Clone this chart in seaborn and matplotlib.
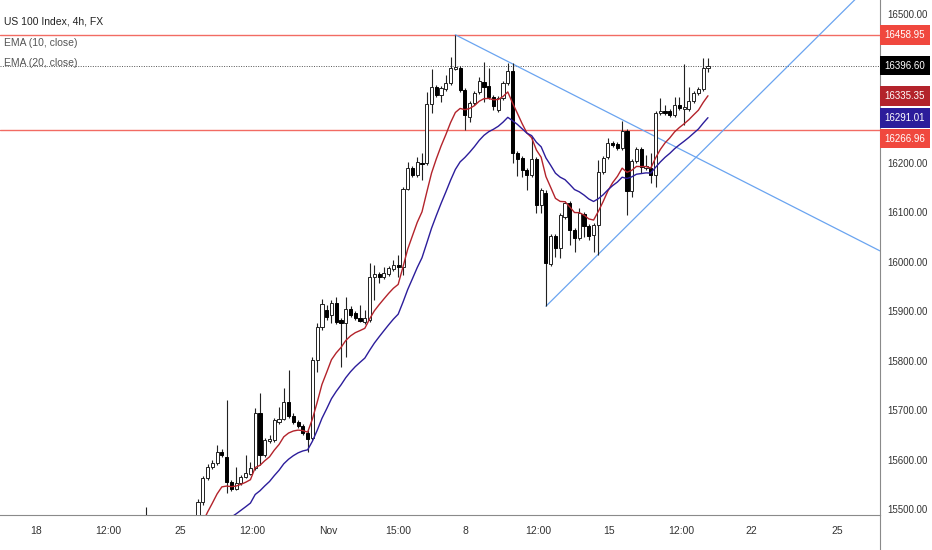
import numpy as np
import pandas as pd
import matplotlib
matplotlib.use('Agg')
import matplotlib.pyplot as plt
import matplotlib.transforms as mtransforms
from matplotlib.lines import Line2D
import seaborn as sns

# 4h bars, US 100 Index. first 11 bars sit mostly below the visible range
opens = [15470, 15450, 15410, 15390, 15370, 15350, 15340, 15335, 15370, 15410, 15440,
         15467, 15514, 15563, 15585, 15593, 15615, 15605, 15554, 15540, 15552,
         15565, 15571, 15583, 15694, 15609, 15637, 15639, 15676, 15682, 15716,
         15688, 15676, 15668, 15654, 15643, 15801, 15868, 15902, 15892, 15916,
         15882, 15876, 15904, 15896, 15886, 15878, 15882, 15969, 15975, 15969,
         15975, 15985, 15993, 15989, 16147, 16189, 16175, 16199, 16199, 16319,
         16353, 16337, 16349, 16361, 16390, 16392, 16347, 16292, 16321, 16343,
         16363, 16355, 16333, 16307, 16331, 16361, 16385, 16220, 16210, 16185,
         16175, 16208, 16114, 16139, 15995, 16052, 16028, 16090, 16119, 16064,
         16048, 16096, 16072, 16054, 16074, 16181, 16212, 16240, 16238, 16230,
         16264, 16143, 16203, 16228, 16189, 16189, 16175, 16301, 16305, 16305,
         16296, 16317, 16309, 16309, 16325, 16341, 16349, 16392]
highs = [15505, 15470, 15430, 15410, 15390, 15370, 15360, 15380, 15420, 15450, 15475,
         15520, 15567, 15591, 15599, 15629, 15621, 15720, 15559, 15585, 15569,
         15609, 15595, 15704, 15734, 15643, 15649, 15684, 15706, 15744, 15781,
         15694, 15680, 15672, 15660, 15807, 15876, 15924, 15912, 15922, 15928,
         15886, 15928, 15910, 15900, 15912, 15902, 15997, 15993, 15979, 15989,
         15991, 16003, 16013, 16151, 16201, 16193, 16212, 16220, 16343, 16389,
         16357, 16355, 16377, 16414, 16458.95, 16396, 16351, 16325, 16345, 16373,
         16404, 16392, 16337, 16335, 16365, 16402, 16402, 16224, 16214, 16189,
         16252, 16212, 16149, 16145, 16056, 16056, 16098, 16123, 16123, 16068,
         16108, 16100, 16076, 16078, 16206, 16214, 16250, 16244, 16242, 16284,
         16268, 16208, 16232, 16232, 16216, 16220, 16305, 16331, 16317, 16309,
         16333, 16333, 16400, 16353, 16345, 16353, 16412, 16412]
lows = [15440, 15400, 15380, 15360, 15340, 15320, 15310, 15320, 15360, 15400, 15430,
        15457, 15508, 15559, 15581, 15589, 15605, 15532, 15536, 15538, 15548,
        15563, 15569, 15579, 15589, 15605, 15633, 15635, 15672, 15680, 15684,
        15672, 15664, 15649, 15615, 15639, 15777, 15862, 15882, 15876, 15874,
        15787, 15807, 15888, 15882, 15878, 15874, 15878, 15922, 15957, 15965,
        15971, 15981, 15969, 15973, 16145, 16171, 16171, 16165, 16195, 16301,
        16333, 16323, 16345, 16357, 16387, 16343, 16266, 16282, 16317, 16339,
        16323, 16329, 16307, 16303, 16327, 16357, 16199, 16173, 16171, 16145,
        16171, 16098, 16098, 15910, 15991, 16009, 16007, 16086, 16034, 16019,
        16044, 16050, 16044, 16019, 16013, 16177, 16208, 16232, 16226, 16226,
        16094, 16131, 16199, 16179, 16185, 16159, 16151, 16296, 16296, 16292,
        16292, 16307, 16276, 16305, 16321, 16337, 16345, 16383]
closes = [15450, 15410, 15390, 15370, 15350, 15340, 15330, 15370, 15410, 15440, 15467,
          15514, 15563, 15585, 15593, 15615, 15609, 15554, 15540, 15552, 15565,
          15573, 15583, 15694, 15609, 15639, 15641, 15680, 15682, 15716, 15688,
          15676, 15668, 15654, 15641, 15801, 15868, 15914, 15888, 15916, 15878,
          15876, 15904, 15892, 15886, 15880, 15886, 15969, 15975, 15969, 15977,
          15987, 15993, 15989, 16147, 16189, 16175, 16201, 16197, 16319, 16353,
          16337, 16351, 16361, 16392, 16393, 16347, 16296, 16321, 16341, 16365,
          16353, 16333, 16315, 16331, 16361, 16385, 16220, 16208, 16185, 16175,
          16208, 16114, 16145, 15997, 16052, 16028, 16094, 16119, 16064, 16048,
          16098, 16072, 16052, 16074, 16181, 16210, 16240, 16236, 16230, 16264,
          16143, 16203, 16228, 16191, 16193, 16175, 16301, 16305, 16301, 16296,
          16317, 16311, 16313, 16325, 16341, 16349, 16392, 16396.6]
first_bar = -11

# EMA values just before the first visible bar (where the lines come in)
ema10_seed = 15440
ema20_seed = 15375

x_ticks = [-34.0, -18.9, -3.8, 11.3, 27.3, 41.9, 56.1, 71.3, 86.3, 101.5, 116.0, 134.1]
x_labels = ['18', '12:00', '25', '12:00', 'Nov', '15:00', '8', '12:00', '15', '12:00', '22', '25']
y_ticks = [15500, 15600, 15700, 15800, 15900, 16000, 16100, 16200, 16500]

hlines = [16458.95, 16266.96]
trend_down = [(54, 16458.95), (65, 16405)]
trend_up = [(73, 15910), (89, 16063)]

tag_prices = [16458.95, 16396.60, 16335.35, 16291.01, 16266.96]
tag_nudge = [0, 0, 0, 0, -18]
tag_colors = ['#f0483e', '#000000', '#b3232b', '#2c1d9b', '#f0483e']

df = pd.DataFrame({'open': opens, 'high': highs, 'low': lows, 'close': closes})
df['idx'] = np.arange(first_bar, first_bar + len(df))


def ema(vals, span, seed):
    a = 2 / (span + 1)
    out, e = [], seed
    for v in vals:
        e = e + a * (v - e)
        out.append(e)
    return out


vis = df[df.idx >= 0].copy()
vis['ema10'] = ema(vis.close, 10, ema10_seed)
vis['ema20'] = ema(vis.close, 20, ema20_seed)

sns.set_theme(style='white')
plt.rcParams['font.family'] = ['Liberation Sans', 'DejaVu Sans']

fig = plt.figure(figsize=(9.32, 5.5), dpi=100)
ax = fig.add_axes([0, 35 / 550, 880 / 932, 515 / 550])

xmin, xmax = -41.55, 143.1
ax.set_xlim(xmin, xmax)
ax.set_ylim(15487.9, 16529.3)

for h in hlines:
    ax.axhline(h, color='#f26b63', lw=1.0, zorder=1)
ax.axhline(closes[-1], color='#555555', lw=0.7, ls=(0, (1, 1.5)), zorder=1)

for (x1, y1), (x2, y2) in [trend_down, trend_up]:
    k = (y2 - y1) / (x2 - x1)
    ax.plot([x1, xmax], [y1, y1 + k * (xmax - x1)], color='#6aa4f0', lw=0.9, zorder=2)

sns.lineplot(data=vis, x='idx', y='ema10', color='#b3232b', lw=1.0, ax=ax, zorder=5)
sns.lineplot(data=vis, x='idx', y='ema20', color='#2c1d9b', lw=1.0, ax=ax, zorder=5)

up = df.close >= df.open
ax.vlines(df.idx, df.low, df.high, color='#222222', lw=0.8, zorder=3)
ax.bar(df.idx[up], (df.close - df.open)[up], bottom=df.open[up], width=0.66,
       color='white', edgecolor='#222222', lw=0.7, zorder=4)
ax.bar(df.idx[~up], (df.close - df.open)[~up], bottom=df.open[~up], width=0.66,
       color='black', edgecolor='black', lw=0.7, zorder=4)

ax.set_xlabel('')
ax.set_ylabel('')
ax.set_xticks(x_ticks)
ax.set_xticklabels(x_labels)
ax.yaxis.tick_right()
ax.set_yticks(y_ticks)
ax.set_yticklabels([f'{v:.2f}' for v in y_ticks])
ax.tick_params(axis='x', length=0, pad=8, labelsize=7.5, labelcolor='#333333')
ax.tick_params(axis='y', length=0, pad=5.5, labelsize=7, labelcolor='#333333')

for s in ['top', 'left']:
    ax.spines[s].set_visible(False)
for s in ['right', 'bottom']:
    ax.spines[s].set_color('#8a8a8a')
    ax.spines[s].set_linewidth(0.8)
fig.add_artist(Line2D([880 / 932, 880 / 932], [0, 35 / 550], color='#8a8a8a', lw=0.8))

trans = mtransforms.blended_transform_factory(ax.transAxes, ax.transData)
for p, n, c in zip(tag_prices, tag_nudge, tag_colors):
    ax.text(905 / 880, p + n, f'{p:.2f}', transform=trans, ha='center', va='center',
            fontsize=7, color='white', clip_on=False, zorder=10,
            bbox=dict(boxstyle='square,pad=0.5', fc=c, ec='none'))

fig.text(4 / 932, 1 - 21 / 550, 'US 100 Index, 4h, FX', fontsize=7.5, color='#222222', va='center')
fig.text(4 / 932, 1 - 43 / 550, 'EMA (10, close)', fontsize=7.5, color='#555555', va='center')
fig.text(4 / 932, 1 - 63 / 550, 'EMA (20, close)', fontsize=7.5, color='#555555', va='center')

fig.savefig('out.png', dpi=100)
